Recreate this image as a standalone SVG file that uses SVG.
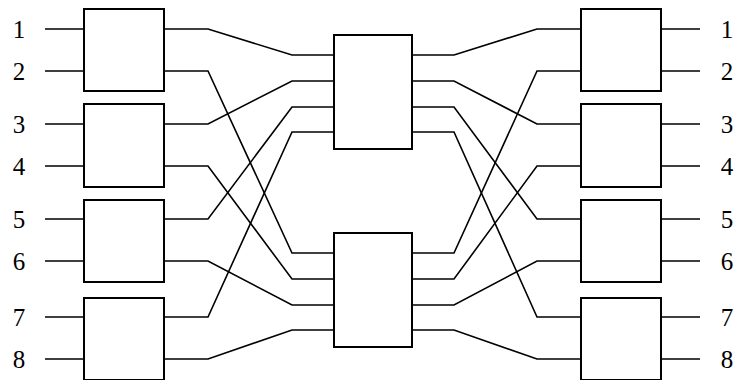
<svg xmlns="http://www.w3.org/2000/svg" width="737" height="380" viewBox="0 0 737 380">
<style>
.box{fill:#fff;stroke:#000;stroke-width:2}
.w{fill:none;stroke:#000;stroke-width:1.6}
.lbl{font-family:"Liberation Serif","Times New Roman",serif;font-size:25px;fill:#000;text-anchor:middle}
</style>
<rect width="737" height="380" fill="#fff"/>
<g id="connectors" class="w">
<path d="M45 29H84M45 71H84M45 124H84M45 166H84M45 219H84M45 261H84M45 317H84M45 359H84"/>
<path d="M661 29H700M661 71H700M661 124H700M661 166H700M661 219H700M661 261H700M661 317H700M661 359H700"/>
<path d="M164 29H208L292 55H334"/>
<path d="M164 71H208L292 253H334"/>
<path d="M164 124H208L292 81H334"/>
<path d="M164 166H208L292 279H334"/>
<path d="M164 219H208L292 107H334"/>
<path d="M164 261H208L292 305H334"/>
<path d="M164 317H208L292 132H334"/>
<path d="M164 359H208L292 330H334"/>
<path d="M412 55H454L537 29H581"/>
<path d="M412 81H454L537 124H581"/>
<path d="M412 107H454L537 219H581"/>
<path d="M412 132H454L537 317H581"/>
<path d="M412 253H454L537 71H581"/>
<path d="M412 279H454L537 166H581"/>
<path d="M412 305H454L537 261H581"/>
<path d="M412 330H454L537 359H581"/>
</g>
<g id="L1"><rect class="box" x="84" y="9" width="80" height="82"/></g>
<g id="L2"><rect class="box" x="84" y="104" width="80" height="83"/></g>
<g id="L3"><rect class="box" x="84" y="200" width="80" height="82"/></g>
<g id="L4"><rect class="box" x="84" y="298" width="80" height="82"/></g>
<g id="M1"><rect class="box" x="334" y="35" width="78" height="114"/></g>
<g id="M2"><rect class="box" x="334" y="233" width="78" height="114"/></g>
<g id="R1"><rect class="box" x="581" y="9" width="80" height="82"/></g>
<g id="R2"><rect class="box" x="581" y="104" width="80" height="83"/></g>
<g id="R3"><rect class="box" x="581" y="200" width="80" height="82"/></g>
<g id="R4"><rect class="box" x="581" y="298" width="80" height="82"/></g>
<g id="labels-left" class="lbl">
<text x="19" y="38">1</text>
<text x="19" y="80">2</text>
<text x="19" y="133">3</text>
<text x="19" y="175">4</text>
<text x="19" y="228">5</text>
<text x="19" y="270">6</text>
<text x="19" y="326">7</text>
<text x="19" y="368">8</text>
</g>
<g id="labels-right" class="lbl">
<text x="727" y="38">1</text>
<text x="727" y="80">2</text>
<text x="727" y="133">3</text>
<text x="727" y="175">4</text>
<text x="727" y="228">5</text>
<text x="727" y="270">6</text>
<text x="727" y="326">7</text>
<text x="727" y="368">8</text>
</g>
</svg>
